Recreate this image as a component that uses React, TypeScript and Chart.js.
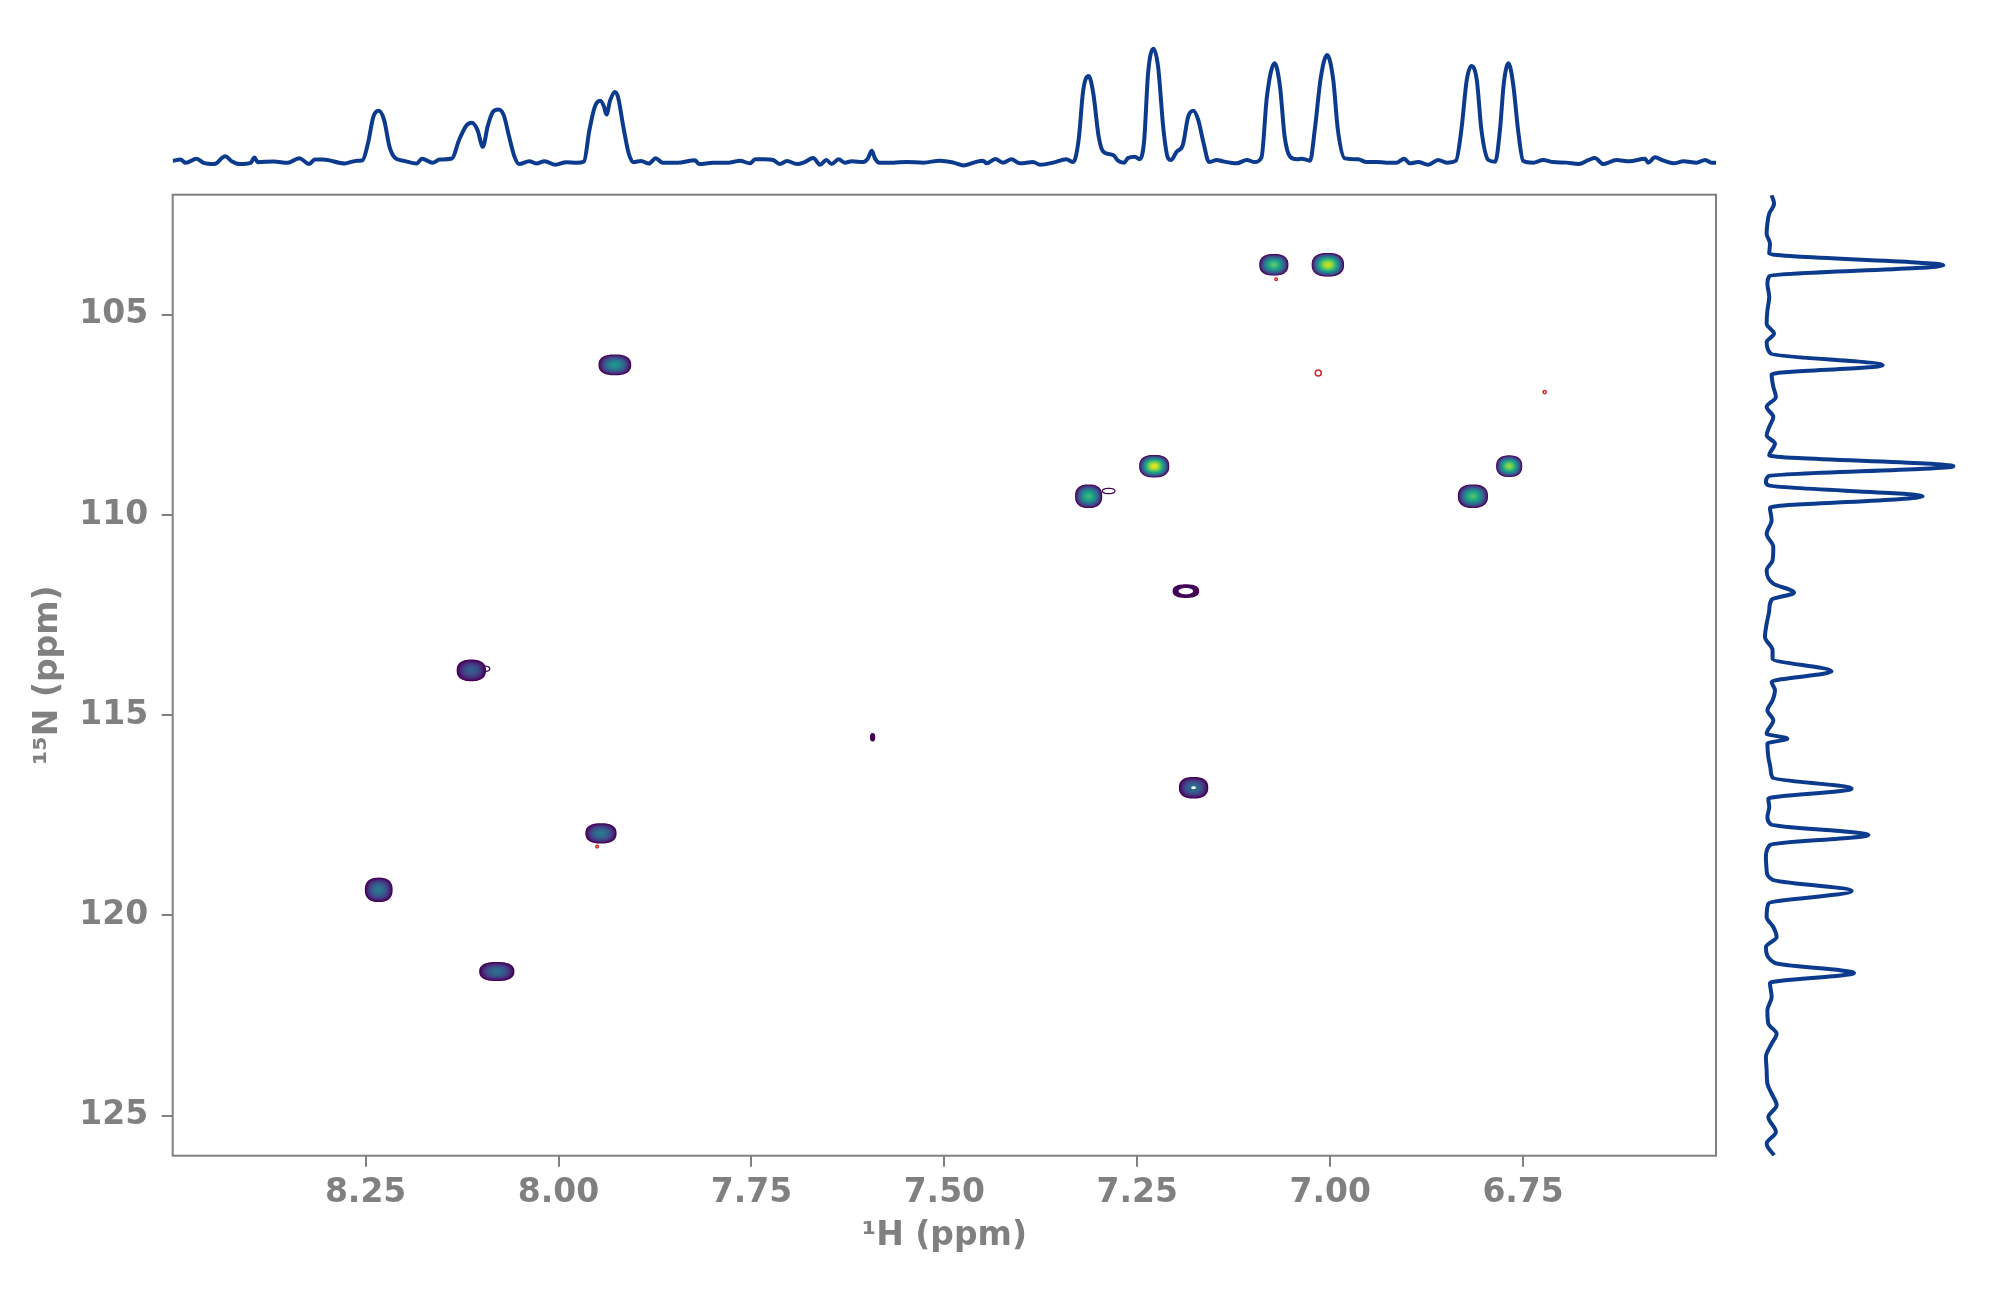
import React, { useEffect, useRef } from "react";
import { Chart, registerables } from "chart.js";

Chart.register(...registerables);

// ---------------- data ----------------
const xTickValues = [8.25, 8.0, 7.75, 7.5, 7.25, 7.0, 6.75];
const yTickValues = [105, 110, 115, 120, 125];

// 2D cross peaks (1H ppm, 15N ppm), relative amplitude, outer-contour half widths (ppm)
const peakH = [7.073, 7.003, 7.927, 7.228, 6.768, 7.313, 6.815, 7.187, 8.113, 7.593, 7.177, 7.945, 8.233, 8.08, 7.287, 8.096];
const peakN = [103.75, 103.75, 106.25, 108.78, 108.78, 109.53, 109.53, 111.9, 113.88, 115.55, 116.81, 117.95, 119.36, 121.4, 109.4, 113.84];
const peakAmp = [0.78, 0.96, 0.58, 1.0, 0.88, 0.72, 0.76, 0.15, 0.37, 0.07, 0.44, 0.47, 0.47, 0.43, 0.1, 0.09];
const peakHwH = [0.0189, 0.021, 0.0212, 0.0195, 0.0169, 0.0176, 0.0195, 0.0172, 0.019, 0.0034, 0.019, 0.0202, 0.018, 0.0228, 0.0088, 0.0077];
const peakHwN = [0.27, 0.295, 0.26, 0.282, 0.27, 0.295, 0.295, 0.17, 0.27, 0.105, 0.27, 0.255, 0.305, 0.24, 0.08, 0.08];

// negative (red) contours
const negH = [7.07, 7.0155, 6.722, 7.95];
const negN = [104.11, 106.45, 106.93, 118.28];

// 1H projection (top)
const topH = [
  8.5, 8.49, 8.483, 8.469, 8.46, 8.446, 8.432, 8.423, 8.413, 8.399, 8.394, 8.39, 8.369, 8.351, 8.336, 8.323, 8.316, 8.305, 8.277, 8.263,
  8.254, 8.247, 8.24, 8.233, 8.226, 8.219, 8.212, 8.2, 8.184, 8.177, 8.163, 8.154, 8.138, 8.129, 8.119, 8.112, 8.105, 8.098, 8.092, 8.085,
  8.078, 8.071, 8.064, 8.057, 8.051, 8.038, 8.029, 8.018, 8.004, 7.99, 7.976, 7.967, 7.96, 7.953, 7.946, 7.941, 7.938, 7.933, 7.927, 7.923,
  7.916, 7.909, 7.903, 7.893, 7.883, 7.874, 7.865, 7.846, 7.823, 7.818, 7.8, 7.782, 7.774, 7.765, 7.752, 7.745, 7.733, 7.722, 7.713, 7.704,
  7.691, 7.681, 7.67, 7.661, 7.653, 7.646, 7.637, 7.629, 7.62, 7.605, 7.599, 7.594, 7.59, 7.584, 7.566, 7.549, 7.527, 7.506, 7.488, 7.475,
  7.462, 7.45, 7.445, 7.434, 7.424, 7.413, 7.402, 7.385, 7.376, 7.359, 7.342, 7.333, 7.326, 7.32, 7.313, 7.307, 7.3, 7.294, 7.281, 7.275,
  7.267, 7.262, 7.253, 7.247, 7.241, 7.236, 7.229, 7.223, 7.216, 7.21, 7.206, 7.199, 7.191, 7.184, 7.177, 7.171, 7.164, 7.157, 7.147, 7.139,
  7.13, 7.121, 7.108, 7.098, 7.089, 7.082, 7.072, 7.065, 7.059, 7.052, 7.043, 7.037, 7.026, 7.02, 7.012, 7.004, 6.996, 6.99, 6.981, 6.964,
  6.953, 6.94, 6.927, 6.914, 6.904, 6.897, 6.886, 6.873, 6.86, 6.849, 6.837, 6.83, 6.823, 6.817, 6.81, 6.804, 6.795, 6.786, 6.78, 6.775,
  6.769, 6.763, 6.756, 6.75, 6.737, 6.724, 6.711, 6.694, 6.678, 6.665, 6.657, 6.646, 6.629, 6.612, 6.592, 6.588, 6.579, 6.568, 6.555, 6.542,
  6.525, 6.514, 6.506, 6.5,
];
const topI = [
  0.014, 0.026, -0.003, 0.032, -0.003, -0.014, 0.055, 0.009, -0.014, -0.003, 0.043, 0.003, 0.009, -0.003, 0.038, -0.014, 0.026, 0.026, -0.009, 0.014,
  0.02, 0.165, 0.397, 0.449, 0.368, 0.136, 0.041, 0.014, -0.009, 0.032, -0.003, 0.026, 0.035, 0.194, 0.325, 0.345, 0.281, 0.136, 0.31, 0.441,
  0.461, 0.412, 0.223, 0.049, -0.014, 0.012, -0.009, 0.012, -0.02, 0.003, -0.003, 0.009, 0.281, 0.484, 0.536, 0.484, 0.417, 0.542, 0.614, 0.571,
  0.31, 0.078, 0.003, 0.014, -0.009, 0.038, -0.003, -0.003, 0.02, -0.014, -0.003, -0.003, 0.004, 0.016, -0.007, 0.028, 0.028, 0.022, -0.013, 0.013,
  -0.013, 0.004, 0.039, -0.019, 0.022, -0.013, 0.028, -0.001, 0.01, 0.004, 0.036, 0.103, 0.036, -0.001, -0.001, 0.004, -0.001, 0.016, -0.001, -0.025,
  -0.001, 0.016, -0.007, 0.03, -0.001, 0.028, -0.007, 0.004, -0.019, -0.001, 0.028, 0.004, 0.196, 0.63, 0.752, 0.601, 0.225, 0.094, 0.065, 0.016,
  -0.001, 0.039, 0.051, 0.028, 0.196, 0.775, 0.99, 0.833, 0.283, 0.036, 0.022, 0.094, 0.152, 0.399, 0.451, 0.37, 0.167, 0.004, 0.022, 0.01,
  -0.001, -0.007, 0.022, 0.004, 0.045, 0.572, 0.862, 0.659, 0.225, 0.051, 0.028, 0.033, 0.016, 0.283, 0.746, 0.935, 0.717, 0.283, 0.036, 0.028,
  0.004, 0.004, -0.001, -0.001, 0.033, -0.007, 0.004, -0.019, 0.022, -0.001, 0.016, 0.283, 0.717, 0.839, 0.717, 0.283, 0.022, 0.007, 0.283, 0.688,
  0.862, 0.688, 0.254, 0.016, -0.001, 0.022, 0.004, -0.001, -0.013, 0.022, 0.039, -0.013, 0.022, 0.01, 0.033, -0.001, 0.045, 0.016, -0.007, 0.01,
  -0.001, 0.022, -0.001, -0.001,
];

// 15N projection (right)
const rightN = [
  102.007, 102.216, 102.465, 102.715, 102.965, 103.215, 103.464, 103.756, 104.03, 104.214, 104.547, 104.88, 105.213, 105.462, 105.671, 105.962,
  106.253, 106.478, 106.794, 107.044, 107.294, 107.543, 107.793, 108.002, 108.209, 108.501, 108.775, 109.025, 109.167, 109.25, 109.525, 109.808,
  110.124, 110.458, 110.791, 111.124, 111.373, 111.706, 111.931, 112.106, 112.372, 112.705, 113.038, 113.371, 113.579, 113.896, 114.162, 114.37,
  114.62, 114.87, 115.12, 115.452, 115.577, 115.702, 116.035, 116.368, 116.551, 116.826, 117.076, 117.284, 117.534, 117.717, 117.983, 118.233,
  118.533, 118.866, 119.099, 119.382, 119.698, 120.031, 120.281, 120.531, 120.781, 121.18, 121.43, 121.68, 122.029, 122.362, 122.695, 122.945,
  123.195, 123.528, 123.861, 124.193, 124.443, 124.735, 125.026, 125.401, 125.692, 125.983,
];
const rightI = [
  0.018, 0.031, 0.005, -0.005, -0.009, 0.009, 0.005, 0.946, 0.005, -0.005, 0.005, -0.005, -0.009, 0.031, -0.009, 0.013,
  0.618, 0.018, 0.027, 0.041, -0.009, 0.027, 0.005, -0.009, 0.036, 0.005, 1.0, 0.0, -0.013, 0.0, 0.834, 0.009,
  0.018, -0.009, 0.027, 0.023, -0.009, 0.027, 0.139, 0.018, 0.005, -0.009, -0.018, 0.023, 0.023, 0.342, 0.018, 0.036,
  0.023, -0.005, 0.027, -0.009, 0.103, -0.005, 0.0, 0.013, 0.023, 0.45, 0.0, 0.005, -0.005, 0.013, 0.541, 0.009,
  -0.013, -0.009, 0.023, 0.45, 0.0, -0.009, 0.027, 0.045, -0.013, 0.036, 0.463, 0.009, 0.018, -0.005, 0.0, 0.045,
  0.018, -0.013, -0.009, -0.005, 0.018, 0.045, 0.0, 0.041, -0.009, 0.031,
];

// ---------------- style ----------------
const GREY = "#808080";
const LINE_BLUE = "#0c3b8e";
const NEG_RED = "#d62728";
const NEG_RADIUS = [1.3, 3, 1.6, 1.3];
const FONT = "DejaVu Sans";
const N_LEVELS = 20;
const V0 = 0.06;
const PROFILE = 0.6;
const SQUARENESS = 0.45;
const VIRIDIS = [
  [68, 1, 84], [72, 36, 117], [65, 68, 135], [53, 95, 141], [42, 120, 142], [33, 145, 140],
  [34, 168, 132], [68, 191, 112], [122, 209, 81], [189, 223, 38], [253, 231, 37],
];

function viridis(t: number): string {
  const tt = Math.max(0, Math.min(1, t)) * (VIRIDIS.length - 1);
  const i = Math.min(VIRIDIS.length - 2, Math.floor(tt));
  const u = tt - i;
  const a = VIRIDIS[i], b = VIRIDIS[i + 1];
  const c = a.map((v, k) => Math.round(v + (b[k] - v) * u));
  return `rgb(${c[0]},${c[1]},${c[2]})`;
}

// slightly squarish outline for outer levels, elliptic toward the centre
function blobPath(ctx: CanvasRenderingContext2D, cx: number, cy: number, rx: number, ry: number, sq: number) {
  const steps = 72;
  const e = 2 + SQUARENESS * sq;
  ctx.beginPath();
  for (let s = 0; s <= steps; s++) {
    const t = (s / steps) * Math.PI * 2;
    const c = Math.cos(t), sn = Math.sin(t);
    const px = cx + rx * Math.sign(c) * Math.pow(Math.abs(c), 2 / e);
    const py = cy + ry * Math.sign(sn) * Math.pow(Math.abs(sn), 2 / e);
    if (s === 0) ctx.moveTo(px, py);
    else ctx.lineTo(px, py);
  }
  ctx.closePath();
}

const contourPlugin = {
  id: "contourPeaks",
  beforeDatasetsDraw(chart: any) {
    const { ctx, chartArea } = chart;
    const xs = chart.scales.x, ys = chart.scales.y;
    ctx.save();
    ctx.beginPath();
    ctx.rect(chartArea.left, chartArea.top, chartArea.right - chartArea.left, chartArea.bottom - chartArea.top);
    ctx.clip();
    const order = peakH.map((_, i) => i).sort((a, b) => peakAmp[a] - peakAmp[b]);
    for (const i of order) {
      const cx = xs.getPixelForValue(peakH[i]);
      const cy = ys.getPixelForValue(peakN[i]);
      const Rx = Math.abs(xs.getPixelForValue(peakH[i] + peakHwH[i]) - cx);
      const Ry = Math.abs(ys.getPixelForValue(peakN[i] + peakHwN[i]) - cy);
      const A = peakAmp[i];
      let lastF = -1;
      for (let k = 0; k < N_LEVELS; k++) {
        const v = V0 + (k * (1 - V0)) / (N_LEVELS - 1);
        if (v >= A) break;
        const f = A > V0 ? Math.pow(1 - (v - V0) / (A - V0), PROFILE) : 1;
        ctx.fillStyle = viridis((v - V0) / (1 - V0));
        blobPath(ctx, cx, cy, Rx * f, Ry * f, f);
        ctx.fill();
        lastF = f;
      }
      if (lastF > 0) {
        const wx = Rx * lastF - 1.1, wy = Ry * lastF - 1.1;
        if (wx > 1.6 && wy > 0.8) {
          ctx.fillStyle = "#ffffff";
          blobPath(ctx, cx, cy, wx, wy, 0);
          ctx.fill();
        }
      }
    }
    ctx.restore();
  },
  afterDraw(chart: any) {
    const { ctx, chartArea } = chart;
    ctx.save();
    ctx.strokeStyle = GREY;
    ctx.lineWidth = 2;
    ctx.strokeRect(chartArea.left, chartArea.top, chartArea.right - chartArea.left, chartArea.bottom - chartArea.top);
    ctx.restore();
  },
};

const tickFont = { family: FONT, size: 33, weight: "bold" as const };

export default function App() {
  const mainRef = useRef<HTMLCanvasElement>(null);
  const topRef = useRef<HTMLCanvasElement>(null);
  const rightRef = useRef<HTMLCanvasElement>(null);

  useEffect(() => {
    Chart.defaults.font.family = FONT;
    const charts: Chart[] = [];

    // ---- main 2D spectrum ----
    charts.push(
      new Chart(mainRef.current as HTMLCanvasElement, {
        type: "scatter",
        data: {
          datasets: [
            {
              label: "negative",
              data: negH.map((h, i) => ({ x: h, y: negN[i] })),
              pointStyle: "circle",
              pointRadius: NEG_RADIUS,
              borderColor: NEG_RED,
              backgroundColor: "rgba(0,0,0,0)",
              borderWidth: 1.5,
            },
          ],
        },
        options: {
          responsive: false,
          animation: false,
          devicePixelRatio: 1,
          events: [],
          layout: { padding: { top: 194.7, right: 284, bottom: 0, left: 0 } },
          plugins: { legend: { display: false }, tooltip: { enabled: false } },
          scales: {
            x: {
              type: "linear",
              min: 6.5,
              max: 8.5,
              reverse: true,
              afterBuildTicks: (s: any) => {
                s.ticks = xTickValues.map((v) => ({ value: v }));
              },
              afterFit: (s: any) => {
                s.height = 1294 - 1155.7;
              },
              ticks: {
                autoSkip: false,
                maxRotation: 0,
                padding: 6.5,
                color: GREY,
                font: tickFont,
                callback: (v: any) => Number(v).toFixed(2),
              },
              grid: { drawOnChartArea: false, drawTicks: true, tickLength: 11, color: GREY, lineWidth: 2 },
              border: { display: false },
              title: {
                display: true,
                text: "¹H (ppm)",
                color: GREY,
                font: tickFont,
                padding: { top: 0, bottom: 38 },
              },
            },
            y: {
              type: "linear",
              min: 102,
              max: 126,
              reverse: true,
              afterBuildTicks: (s: any) => {
                s.ticks = yTickValues.map((v) => ({ value: v }));
              },
              afterFit: (s: any) => {
                s.width = 172.7;
              },
              ticks: {
                autoSkip: false,
                padding: 13.5,
                color: GREY,
                font: tickFont,
                callback: (v: any) => String(v),
              },
              grid: { drawOnChartArea: false, drawTicks: true, tickLength: 11, color: GREY, lineWidth: 2 },
              border: { display: false },
              title: {
                display: true,
                text: "¹⁵N (ppm)",
                color: GREY,
                font: tickFont,
                padding: { top: 28.9, bottom: 0 },
              },
            },
          },
        },
        plugins: [contourPlugin],
      } as any)
    );

    // ---- top 1H projection ----
    charts.push(
      new Chart(topRef.current as HTMLCanvasElement, {
        type: "line",
        data: {
          datasets: [
            {
              data: topH.map((h, i) => ({ x: h, y: topI[i] })),
              borderColor: LINE_BLUE,
              borderWidth: 4,
              pointRadius: 0,
              fill: false,
              cubicInterpolationMode: "monotone",
            },
          ],
        },
        options: {
          responsive: false,
          animation: false,
          devicePixelRatio: 1,
          events: [],
          layout: { padding: { left: 172.7, right: 284, top: 0, bottom: 0 } },
          plugins: { legend: { display: false }, tooltip: { enabled: false } },
          scales: {
            x: { type: "linear", min: 6.5, max: 8.5, reverse: true, display: false },
            y: { type: "linear", min: -0.239, max: 1.239, display: false },
          },
        },
      } as any)
    );

    // ---- right 15N projection ----
    charts.push(
      new Chart(rightRef.current as HTMLCanvasElement, {
        type: "line",
        data: {
          datasets: [
            {
              data: rightN.map((n, i) => ({ x: rightI[i], y: n })),
              borderColor: LINE_BLUE,
              borderWidth: 4,
              pointRadius: 0,
              fill: false,
              cubicInterpolationMode: "monotone",
            },
          ],
        },
        options: {
          indexAxis: "y",
          responsive: false,
          animation: false,
          devicePixelRatio: 1,
          events: [],
          layout: { padding: { left: 0, right: 0, top: 10, bottom: 10 } },
          plugins: { legend: { display: false }, tooltip: { enabled: false } },
          scales: {
            x: { type: "linear", min: -0.153, max: 1.198, display: false },
            y: { type: "linear", min: 102, max: 126, reverse: true, display: false },
          },
        },
      } as any)
    );

    return () => {
      charts.forEach((c) => c.destroy());
    };
  }, []);

  return (
    <div style={{ position: "absolute", left: 0, top: 0, width: 2000, height: 1294, background: "#ffffff" }}>
      <canvas ref={mainRef} width={2000} height={1294} style={{ position: "absolute", left: 0, top: 0, width: 2000, height: 1294 }} />
      <canvas ref={topRef} width={2000} height={170} style={{ position: "absolute", left: 0, top: 20, width: 2000, height: 170 }} />
      <canvas ref={rightRef} width={250} height={981} style={{ position: "absolute", left: 1740, top: 184.7, width: 250, height: 981 }} />
    </div>
  );
}
